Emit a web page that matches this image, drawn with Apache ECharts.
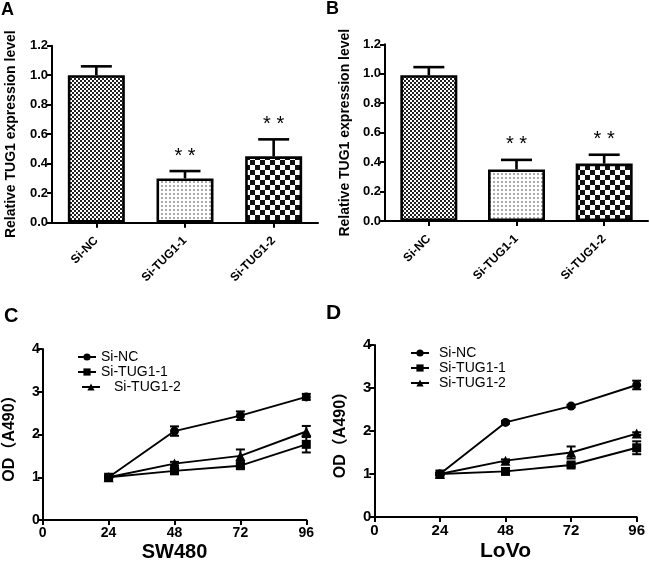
<!DOCTYPE html>
<html>
<head>
<meta charset="utf-8">
<script src="https://cdn.jsdelivr.net/npm/echarts@6/dist/echarts.min.js"></script>
<style>
html,body{margin:0;padding:0;background:#fff;}
#main{width:650px;height:563px;}
</style>
</head>
<body>
<div id="main"></div>
<script>
// ---------- data ----------
const categories = ['Si-NC', 'Si-TUG1-1', 'Si-TUG1-2'];
const aMean = [1.00, 0.30, 0.45];
const aErr  = [0.06, 0.05, 0.115];
const bMean = [0.99, 0.35, 0.39];
const bErr  = [0.055, 0.065, 0.06];
const stars = ['', '* *', '* *'];

const hours = [24, 48, 72, 96];
const cNC = [1.00, 2.08, 2.44, 2.88];
const cNCErr = [0.02, 0.11, 0.10, 0.07];
const cT1 = [1.00, 1.15, 1.27, 1.77];
const cT1Err = [0.02, 0.04, 0.05, 0.19];
const cT2 = [1.00, 1.32, 1.50, 2.07];
const cT2Err = [0.02, 0.04, 0.15, 0.13];
const dNC = [1.00, 2.20, 2.58, 3.07];
const dNCErr = [0.02, 0.03, 0.03, 0.10];
const dT1 = [1.00, 1.06, 1.21, 1.61];
const dT1Err = [0.02, 0.03, 0.04, 0.15];
const dT2 = [1.00, 1.31, 1.50, 1.94];
const dT2Err = [0.02, 0.03, 0.14, 0.03];
const seriesNames = ['Si-NC', 'Si-TUG1-1', 'Si-TUG1-2'];
const seriesSymbols = ['circle', 'rect', 'triangle'];

// ---------- patterns ----------
function makePattern(kind) {
  const c = document.createElement('canvas');
  const ctx = c.getContext('2d');
  if (kind === 0) {
    c.width = 4; c.height = 4;
    ctx.fillStyle = '#fff'; ctx.fillRect(0, 0, 4, 4);
    ctx.fillStyle = '#222';
    ctx.fillRect(0, 0, 2, 2); ctx.fillRect(2, 2, 2, 2);
  } else if (kind === 1) {
    c.width = 4; c.height = 4;
    ctx.fillStyle = '#fff'; ctx.fillRect(0, 0, 4, 4);
    ctx.fillStyle = '#aaa';
    ctx.fillRect(1, 1, 2, 2);
  } else {
    c.width = 10; c.height = 10;
    ctx.fillStyle = '#fff'; ctx.fillRect(0, 0, 10, 10);
    ctx.fillStyle = '#111';
    ctx.fillRect(0, 0, 5, 5); ctx.fillRect(5, 5, 5, 5);
  }
  return { image: c, repeat: 'repeat' };
}
const patterns = [makePattern(0), makePattern(1), makePattern(2)];

const FONT = "'Liberation Sans', Arial, Helvetica, sans-serif";

// ---------- helpers ----------
function errSeries(gi, data, capW, onlyUp, lw) {
  return {
    type: 'custom', xAxisIndex: gi, yAxisIndex: gi, z: 6, silent: true,
    data: data,
    renderItem: function (params, api) {
      const x = api.value(0), m = api.value(1), e = api.value(2);
      const top = api.coord([x, m + e]);
      const bot = api.coord([x, onlyUp ? m : m - e]);
      const st = { stroke: '#000', lineWidth: lw };
      const ch = [
        { type: 'line', shape: { x1: top[0], y1: top[1], x2: bot[0], y2: bot[1] }, style: st },
        { type: 'line', shape: { x1: top[0] - capW / 2, y1: top[1], x2: top[0] + capW / 2, y2: top[1] }, style: st }
      ];
      if (!onlyUp) ch.push({ type: 'line', shape: { x1: bot[0] - capW / 2, y1: bot[1], x2: bot[0] + capW / 2, y2: bot[1] }, style: st });
      return { type: 'group', children: ch };
    }
  };
}
function starSeries(gi, means, errs) {
  return {
    type: 'custom', xAxisIndex: gi, yAxisIndex: gi, z: 7, silent: true,
    data: means.map((m, i) => [i, m + errs[i], i]),
    renderItem: function (params, api) {
      const p = api.coord([api.value(0), api.value(1)]);
      const s = stars[api.value(2)];
      return { type: 'text', style: { text: s, x: p[0], y: p[1] - 15, fill: '#000', font: '20px ' + FONT, textAlign: 'center', textVerticalAlign: 'middle' } };
    }
  };
}
function barSeries(gi, means) {
  return {
    type: 'bar', xAxisIndex: gi, yAxisIndex: gi, barWidth: 57, z: 3,
    data: means.map((v, i) => ({ value: v, itemStyle: { color: patterns[i] } })),
    itemStyle: { borderColor: '#000', borderWidth: 2.6 }
  };
}
function lineSeries(gi, name, sym, vals) {
  return {
    type: 'line', name: name, xAxisIndex: gi, yAxisIndex: gi, z: 5,
    data: hours.map((h, i) => [h, vals[i]]),
    symbol: sym, symbolSize: sym === 'triangle' ? 10 : 9,
    itemStyle: { color: '#000' },
    lineStyle: { color: '#000', width: 1.9 }
  };
}
const axisLineStyle = { show: true, lineStyle: { color: '#000', width: 2 } };
function barX(gi) {
  return {
    type: 'category', gridIndex: gi, data: categories,
    axisLine: axisLineStyle,
    axisTick: { show: true, alignWithLabel: true, length: 5, lineStyle: { color: '#000', width: 2 } },
    axisLabel: { rotate: 45, fontFamily: FONT, fontWeight: 'bold', fontSize: 12, color: '#000', margin: 16 }
  };
}
function barY(gi, gap) {
  return {
    type: 'value', gridIndex: gi, min: 0, max: 1.2, interval: 0.2,
    name: 'Relative TUG1 expression level', nameLocation: 'middle', nameGap: gap,
    nameTextStyle: { fontFamily: FONT, fontWeight: 'bold', fontSize: 14, color: '#000' },
    axisLine: axisLineStyle,
    axisTick: { show: true, length: 5, lineStyle: { color: '#000', width: 2 } },
    axisLabel: { formatter: v => v.toFixed(1), fontFamily: FONT, fontWeight: 'bold', fontSize: 13, color: '#000', margin: 4 },
    splitLine: { show: false }
  };
}
function lineX(gi, name, fs, nfs, gap) {
  return {
    type: 'value', gridIndex: gi, min: 0, max: 96, interval: 24,
    name: name, nameLocation: 'middle', nameGap: gap,
    nameTextStyle: { fontFamily: FONT, fontWeight: 'bold', fontSize: nfs, color: '#000' },
    axisLine: axisLineStyle,
    axisTick: { show: true, length: 5, lineStyle: { color: '#000', width: 2 } },
    axisLabel: { fontFamily: FONT, fontWeight: 'bold', fontSize: fs, color: '#000', margin: 6 },
    splitLine: { show: false }
  };
}
function lineY(gi, fs, gap) {
  return {
    type: 'value', gridIndex: gi, min: 0, max: 4, interval: 1,
    name: 'OD（A490）', nameLocation: 'middle', nameGap: gap,
    nameTextStyle: { fontFamily: FONT + ", 'Noto Sans CJK SC'", fontWeight: 'bold', fontSize: 16, color: '#000' },
    axisLine: axisLineStyle,
    axisTick: { show: true, length: 5, lineStyle: { color: '#000', width: 2 } },
    axisLabel: { fontFamily: FONT, fontWeight: 'bold', fontSize: fs, color: '#000', margin: 3 },
    splitLine: { show: false }
  };
}
function legend(names, left, top, textPad) {
  return {
    data: names, left: left, top: top, orient: 'vertical', itemGap: 1, padding: 0,
    itemWidth: 18, itemHeight: 9, selectedMode: false,
    textStyle: { fontFamily: FONT, fontSize: 14, color: '#000', lineHeight: 14, padding: [0, 0, 0, textPad] }
  };
}

const chart = echarts.init(document.getElementById('main'));
const titleStyle = (fs) => ({ fontFamily: FONT, fontWeight: 'bold', fontSize: fs, color: '#000' });
const option = {
  animation: false,
  backgroundColor: '#fff',
  title: [
    { text: 'A', left: 1, top: 1, padding: 0, textStyle: titleStyle(18) },
    { text: 'B', left: 326, top: 0, padding: 0, textStyle: titleStyle(18) },
    { text: 'C', left: 4, top: 306, padding: 0, textStyle: titleStyle(20) },
    { text: 'D', left: 326, top: 303, padding: 0, textStyle: titleStyle(21) }
  ],
  grid: [
    { left: 52, top: 45.7, width: 266, height: 177 },
    { left: 385, top: 44.3, width: 263, height: 176.7 },
    { left: 42.7, top: 349, width: 263.6, height: 175 },
    { left: 374.3, top: 345, width: 262.4, height: 176 }
  ],
  legend: [
    legend(['Si-NC', 'Si-TUG1-1'], 77, 350, 0),
    legend(['Si-TUG1-2'], 81, 380, 9),
    legend(['Si-NC', 'Si-TUG1-1', 'Si-TUG1-2'], 410, 346, 5)
  ],
  xAxis: [barX(0), barX(1), lineX(2, 'SW480', 14, 20, 22), lineX(3, 'LoVo', 15, 21, 24)],
  yAxis: [barY(0, 34), barY(1, 33), lineY(2, 14, 25), lineY(3, 15, 26)],
  series: [
    barSeries(0, aMean),
    errSeries(0, aMean.map((m, i) => [i, m, aErr[i]]), 31, true, 2.6),
    starSeries(0, aMean, aErr),
    barSeries(1, bMean),
    errSeries(1, bMean.map((m, i) => [i, m, bErr[i]]), 31, true, 2.6),
    starSeries(1, bMean, bErr),

    lineSeries(2, seriesNames[0], seriesSymbols[0], cNC),
    lineSeries(2, seriesNames[1], seriesSymbols[1], cT1),
    lineSeries(2, seriesNames[2], seriesSymbols[2], cT2),
    errSeries(2, hours.map((h, i) => [h, cNC[i], cNCErr[i]]), 9, false, 2),
    errSeries(2, hours.map((h, i) => [h, cT1[i], cT1Err[i]]), 9, false, 2),
    errSeries(2, hours.map((h, i) => [h, cT2[i], cT2Err[i]]), 9, false, 2),

    lineSeries(3, seriesNames[0], seriesSymbols[0], dNC),
    lineSeries(3, seriesNames[1], seriesSymbols[1], dT1),
    lineSeries(3, seriesNames[2], seriesSymbols[2], dT2),
    errSeries(3, hours.map((h, i) => [h, dNC[i], dNCErr[i]]), 9, false, 2),
    errSeries(3, hours.map((h, i) => [h, dT1[i], dT1Err[i]]), 9, false, 2),
    errSeries(3, hours.map((h, i) => [h, dT2[i], dT2Err[i]]), 9, false, 2)
  ]
};
chart.setOption(option);
</script>
</body>
</html>
